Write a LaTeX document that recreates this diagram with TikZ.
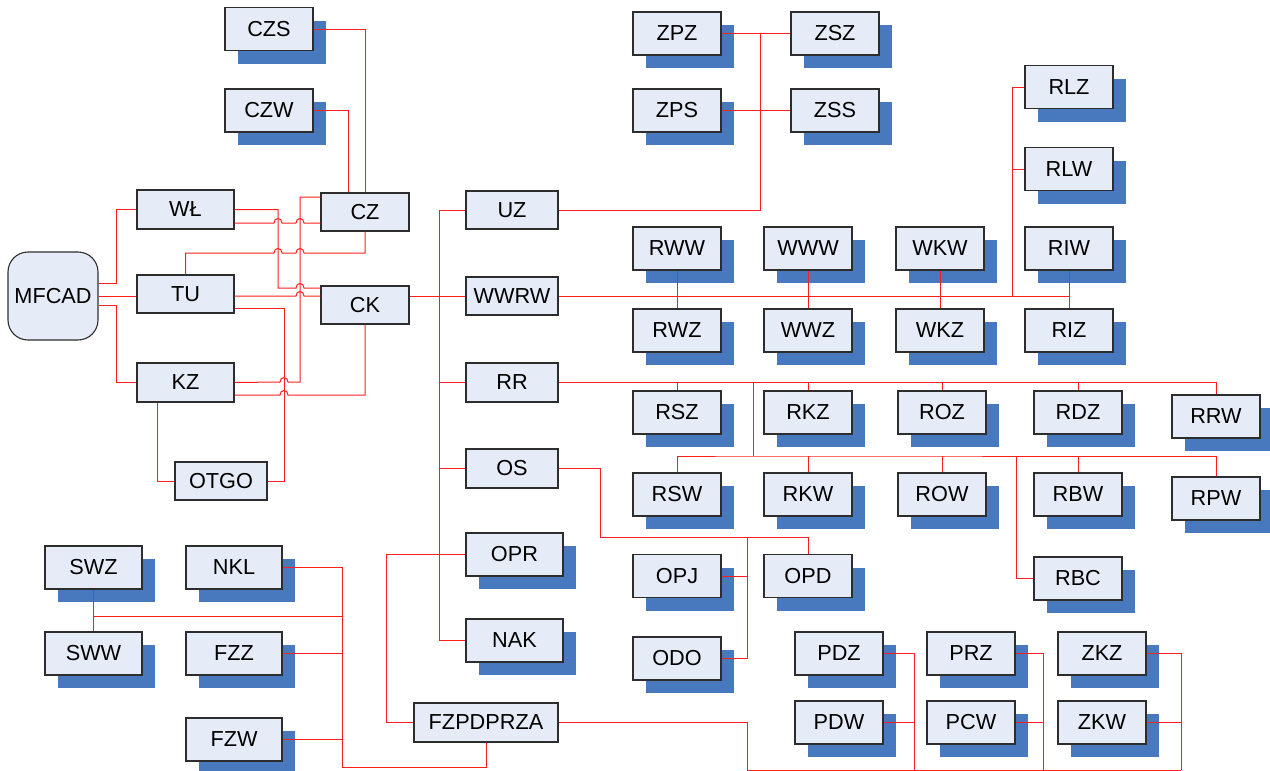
\documentclass[tikz,border=0pt]{standalone}
\usepackage{fontspec}
\setmainfont{Liberation Sans}
\usetikzlibrary{shadows,calc}
\definecolor{boxfill}{RGB}{230,236,247}
\definecolor{boxline}{RGB}{45,45,45}
\definecolor{shadowblue}{RGB}{72,120,190}
\definecolor{linkred}{RGB}{255,30,30}
\begin{document}
\begin{tikzpicture}[x=1pt,y=-1pt,
  box/.style={draw=boxline,line width=1.1pt,fill=boxfill,inner sep=0pt,
    minimum width=88pt,minimum height=43pt,
    font=\fontsize{21.7}{25}\selectfont},
  sbox/.style={box,general shadow={fill=shadowblue,shadow xshift=13pt,shadow yshift=-13pt}},
  wide/.style={minimum width=97pt},
  mid/.style={minimum width=92pt,minimum height=38pt},
  link/.style={draw=linkred,line width=1pt}]
\useasboundingbox (0,0) rectangle (1270,771);

% ---- left cluster ----
\node[sbox] (CZS) at (269,29) {CZS};
\node[sbox] (CZW) at (269,110.5) {CZW};
\node[box,wide,minimum height=39pt] (WL) at (185.5,209.5) {WŁ};
\node[box,minimum height=38pt] (CZ) at (365,212) {CZ};
\node[box,minimum width=90pt,minimum height=88pt,rounded corners=20pt] (MFCAD) at (53,296) {MFCAD};
\node[box,wide,minimum height=38pt] (TU) at (185.5,294) {TU};
\node[box,minimum height=38pt] (CK) at (365,305) {CK};
\node[box,wide,minimum height=39pt] (KZ) at (185.5,382.5) {KZ};
\node[box,mid] (OTGO) at (221,481) {OTGO};

% ---- middle column ----
\node[box,mid] (UZ) at (512,210) {UZ};
\node[box,mid] (WWRW) at (512,296) {WWRW};
\node[box,mid,minimum height=39pt] (RR) at (512,382.5) {RR};
\node[box,mid,minimum height=39pt] (OS) at (512,468.5) {OS};
\node[sbox,wide] (OPR) at (514.5,554.5) {OPR};
\node[sbox,wide] (NAK) at (514.5,640.5) {NAK};
\node[box,minimum width=144pt,minimum height=39pt] (FZPDPRZA) at (486,722.5) {FZPDPRZA};

% ---- top ----
\node[sbox] (ZPZ) at (677,33.5) {ZPZ};
\node[sbox] (ZSZ) at (835,33.5) {ZSZ};
\node[sbox] (ZPS) at (677,110.5) {ZPS};
\node[sbox] (ZSS) at (835,110.5) {ZSS};

% ---- right ----
\node[sbox] (RLZ) at (1069,87) {RLZ};
\node[sbox] (RLW) at (1069,169) {RLW};
\node[sbox] (RIW) at (1069,248.5) {RIW};
\node[sbox] (RIZ) at (1069,330.5) {RIZ};
\node[sbox] (WKW) at (940,248.5) {WKW};
\node[sbox] (WKZ) at (940,330.5) {WKZ};
\node[sbox] (RWW) at (677,248.5) {RWW};
\node[sbox] (RWZ) at (677,330.5) {RWZ};
\node[sbox] (WWW) at (808,248.5) {WWW};
\node[sbox] (WWZ) at (808,330.5) {WWZ};

\node[sbox] (RSZ) at (677,412.5) {RSZ};
\node[sbox] (RKZ) at (808,412.5) {RKZ};
\node[sbox] (ROZ) at (942,412.5) {ROZ};
\node[sbox] (RDZ) at (1078,412.5) {RDZ};
\node[sbox] (RRW) at (1216,416.5) {RRW};
\node[sbox] (RSW) at (677,494.5) {RSW};
\node[sbox] (RKW) at (808,494.5) {RKW};
\node[sbox] (ROW) at (942,494.5) {ROW};
\node[sbox] (RBW) at (1078,494.5) {RBW};
\node[sbox] (RPW) at (1216,498.5) {RPW};
\node[sbox] (RBC) at (1078,578.5) {RBC};

\node[sbox] (OPJ) at (677,576) {OPJ};
\node[sbox] (OPD) at (808,576) {OPD};
\node[sbox] (ODO) at (677,658.5) {ODO};

\node[sbox] (PDZ) at (839,653.5) {PDZ};
\node[sbox] (PDW) at (839,722.5) {PDW};
\node[sbox] (PRZ) at (971,653.5) {PRZ};
\node[sbox] (PCW) at (971,722.5) {PCW};
\node[sbox] (ZKZ) at (1102,653.5) {ZKZ};
\node[sbox] (ZKW) at (1102,722.5) {ZKW};

% ---- bottom left ----
\node[sbox,wide] (SWZ) at (93.5,567.5) {SWZ};
\node[sbox,wide] (SWW) at (93.5,653.5) {SWW};
\node[sbox,minimum width=96pt] (NKL) at (234,567.5) {NKL};
\node[sbox,minimum width=96pt] (FZZ) at (234,653.5) {FZZ};
\node[sbox,minimum width=96pt] (FZW) at (234,739.5) {FZW};

% ---- junction coordinates ----
\coordinate (zj) at (760,33.5);
\coordinate (rl) at (1012,296);
\coordinate (rj) at (753,382.5);
\coordinate (rj2) at (753,456);
\coordinate (rb) at (1016,456);
\coordinate (oj) at (747,537);
\coordinate (os2) at (600,537);
\coordinate (fa) at (747,770);
\coordinate (pb) at (914,770);
\coordinate (cb) at (1043,770);
\coordinate (zb) at (1181,770);
\coordinate (fb) at (342,767);
\coordinate (sj) at (93.5,616);

% ---- left cluster connectors ----
\draw[link] ([shift={(0,-13)}]MFCAD.east) -- ++(18,0) |- (WL.west);
\draw[link] (MFCAD.east) -- (MFCAD.east -| TU.west);
\draw[link] ([shift={(0,9)}]MFCAD.east) -- ++(18,0) |- (KZ.west);
\draw[link] (WL.east) -- (278,209.5) -- (278,288) -- (296,288)
  .. controls (296,282) and (304,282) .. (304,288) -- ([shift={(0,-17)}]CK.west);
\draw[link] ([shift={(0,13.5)}]WL.east) -- (274,223)
  .. controls (274,217) and (282,217) .. (282,223) -- (296,223)
  .. controls (296,217) and (304,217) .. (304,223) -- ([shift={(0,11)}]CZ.west);
\draw[link] ([shift={(0,-15)}]CZ.west) -- (300,197) -- (300,382) -- (288,382)
  .. controls (288,376) and (280,376) .. (280,382) -- (KZ.east);
\draw[link] (CZ.south) -- (365,253) -- (304,253)
  .. controls (304,247) and (296,247) .. (296,253) -- (282,253)
  .. controls (282,247) and (274,247) .. (274,253) -- (185.5,253) -- (TU.north);
\draw[link] ([shift={(0,2)}]TU.east) -- (296,296)
  .. controls (296,290) and (304,290) .. (304,296) -- ([shift={(0,-9)}]CK.west);
\draw[link] ([shift={(0,14)}]TU.east) -| ([shift={(17,0)}]OTGO.east) -- (OTGO.east);
\draw[link] ([shift={(0,12.5)}]KZ.east) -- (280,395)
  .. controls (280,389) and (288,389) .. (288,395) -- (365,395) -- (CK.south);
\draw[link] ([shift={(-28.5,0)}]KZ.south) |- (OTGO.west);
\draw[link] (CZS.east) -| (CZ.north);
\draw[link] (CZW.east) -| ([shift={(-17,0)}]CZ.north);
\draw[link] (CK.east |- WWRW.west) -- (WWRW.west);

% ---- trunk ----
\draw[link] (UZ.west) -- ++(-26,0) |- (NAK.west);
\draw[link] (RR.west) -- ++(-26,0);
\draw[link] (OS.west) -- ++(-26,0);
\draw[link] (OPR.west) -- ++(-79,0) |- (FZPDPRZA.west);

% ---- top ----
\draw[link] (ZPZ.east) -- (zj) -- (ZSZ.west);
\draw[link] (UZ.east) -| (zj);
\draw[link] (ZPS.east) -- (ZSS.west);

% ---- WWRW branch ----
\draw[link] (WWRW.east) -- (WWRW.east -| RIW.south);
\draw[link] (RIW.south) -- (RIZ.north);
\draw[link] (rl) |- (RLZ.west);
\draw[link] (RLW.west) -- (RLW.west -| rl);
\draw[link] (RWW.south) -- (RWZ.north);
\draw[link] (WWW.south) -- (WWZ.north);
\draw[link] (WKW.south) -- (WKZ.north);

% ---- RR branch ----
\draw[link] (RR.east) -| (RRW.north);
\draw[link] (RSZ.north) -- (RSZ.north |- RR.east);
\draw[link] (RKZ.north) -- (RKZ.north |- RR.east);
\draw[link] (ROZ.north) -- (ROZ.north |- RR.east);
\draw[link] (RDZ.north) -- (RDZ.north |- RR.east);
\draw[link] (rj) -- (rj2);
\draw[link] (RSW.north) |- (rj2) -| (RPW.north);
\draw[link] (RKW.north) -- (RKW.north |- rj2);
\draw[link] (ROW.north) -- (ROW.north |- rj2);
\draw[link] (RBW.north) -- (RBW.north |- rj2);
\draw[link] (rb) |- (RBC.west);

% ---- OS branch ----
\draw[link] (OS.east) -| (os2) -| (OPD.north);
\draw[link] (oj) |- (ODO.east);
\draw[link] (OPJ.east) -- (OPJ.east -| oj);

% ---- FZPDPRZA branches ----
\draw[link] (FZPDPRZA.east) -| (fa) -- (zb);
\draw[link] (PDZ.east) -| (pb);
\draw[link] (PDW.east) -- (PDW.east -| pb);
\draw[link] (PRZ.east) -| (cb);
\draw[link] (PCW.east) -- (PCW.east -| cb);
\draw[link] (ZKZ.east) -| (zb);
\draw[link] (ZKW.east) -- (ZKW.east -| zb);
\draw[link] (FZPDPRZA.south) |- (fb) |- (NKL.east);
\draw[link] (FZZ.east) -- (FZZ.east -| fb);
\draw[link] (FZW.east) -- (FZW.east -| fb);
\draw[link] (SWZ.south) -- (SWW.north);
\draw[link] (sj) -- (sj -| fb);
\end{tikzpicture}
\end{document}
